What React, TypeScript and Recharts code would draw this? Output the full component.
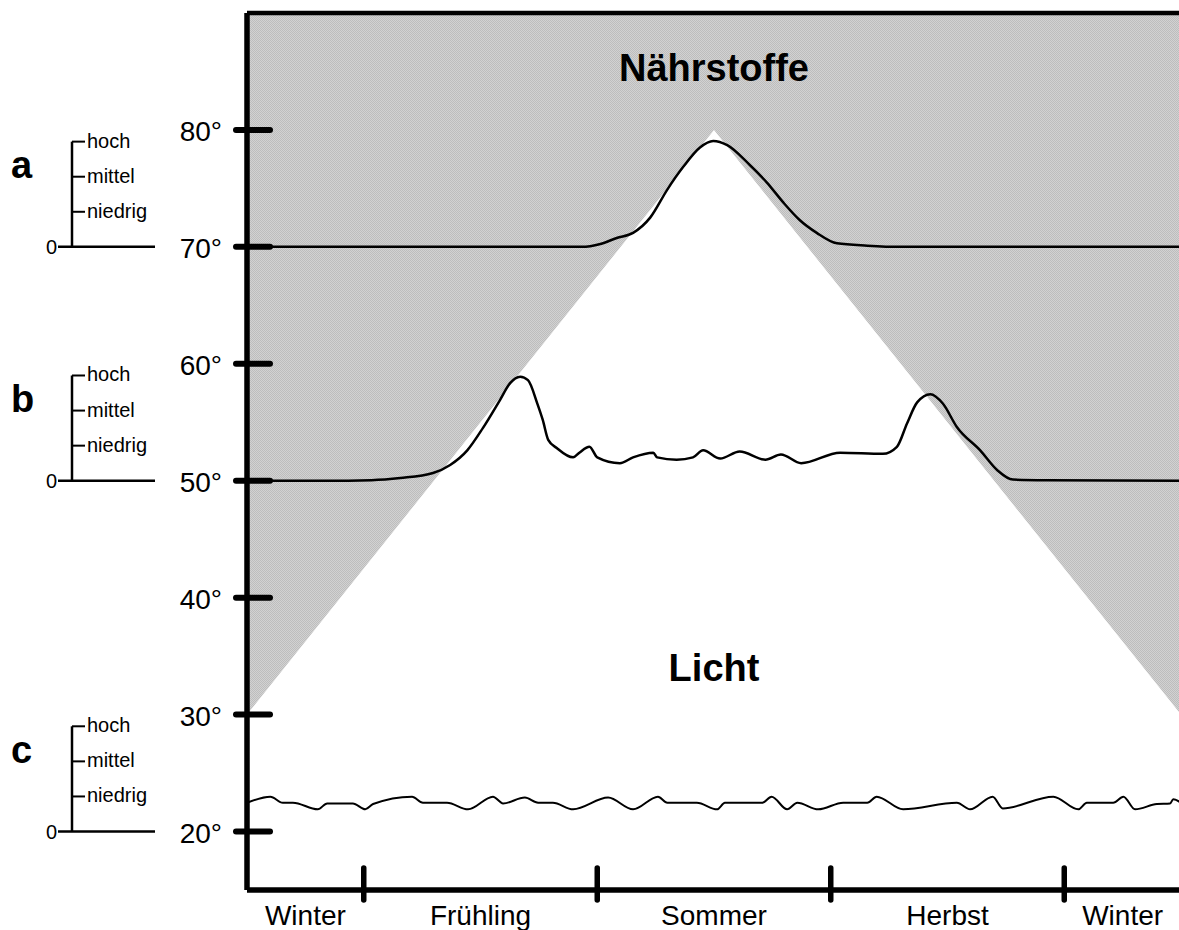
import { Area, ComposedChart, Line, ReferenceDot, ReferenceLine, XAxis, YAxis } from 'recharts'

// seasons along the year (x = months from start of winter)
const seasons = ['Winter', 'Frühling', 'Sommer', 'Herbst', 'Winter']
const seasonCenters = [0.75, 3, 6, 9, 11.25]
const seasonBounds = [1.5, 4.5, 7.5, 10.5]

const degreeTicks = [20, 30, 40, 50, 60, 70, 80]

// edge of the light triangle (below = Licht, above = Nährstoffe)
const lightMonths = [0, 6, 12]
const lightEdge = [30, 80, 30]
const topDegree = 90
const bottomDegree = 15

// a: high latitude
const aMonths = [0, 2, 4.3, 4.54, 4.75, 4.96, 5.18, 5.4, 5.6, 5.82, 5.99, 6.17, 6.46, 6.68, 6.89, 7.1, 7.32, 7.58, 7.97, 8.4, 10, 12]
const aValues = [70, 70, 70, 70.25, 70.76, 71.2, 72.5, 74.9, 76.8, 78.5, 79.05, 78.7, 77.0, 75.5, 73.8, 72.3, 71.2, 70.3, 70.1, 70, 70, 70]

// b: mid latitude
const bMonths = [0, 1.0, 1.6, 1.97, 2.39, 2.61, 2.83, 3.03, 3.25, 3.38, 3.51, 3.61, 3.73, 3.8, 3.87, 3.98, 4.19, 4.27, 4.4, 4.5, 4.79, 4.96, 5.22, 5.27, 5.52, 5.73, 5.86, 6.08, 6.33, 6.66, 6.86, 7.12, 7.62, 8.17, 8.35, 8.48, 8.61, 8.78, 8.94, 9.12, 9.42, 9.64, 9.84, 10.28, 12]
const bValues = [50, 50, 50.05, 50.23, 50.66, 51.35, 52.6, 54.5, 56.9, 58.35, 58.9, 58.6, 56.6, 55.2, 53.5, 52.8, 52.0, 52.4, 52.9, 52.0, 51.5, 52.0, 52.4, 52.0, 51.8, 52.0, 52.6, 51.9, 52.5, 51.8, 52.25, 51.5, 52.4, 52.3, 52.9, 54.9, 56.7, 57.4, 56.6, 54.6, 52.6, 50.9, 50.1, 50.05, 50]

// c: low latitude
const cMonths = [0, 0.3, 0.46, 0.59, 0.91, 1.03, 1.36, 1.52, 1.62, 2.12, 2.26, 2.57, 2.84, 3.16, 3.29, 3.57, 3.74, 3.93, 4.19, 4.64, 4.96, 5.28, 5.4, 5.78, 6.04, 6.14, 6.62, 6.74, 6.94, 7.07, 7.34, 7.66, 7.97, 8.09, 8.43, 9.12, 9.29, 9.58, 9.71, 10.36, 10.68, 10.79, 11.13, 11.26, 11.41, 11.69, 11.86, 11.9, 12]
const cValues = [22.46, 22.98, 22.46, 22.46, 21.9, 22.4, 22.4, 21.9, 22.35, 22.98, 22.46, 22.46, 21.9, 22.98, 22.4, 22.9, 22.46, 22.46, 21.9, 22.9, 21.9, 22.98, 22.46, 22.46, 21.9, 22.46, 22.46, 22.98, 21.9, 22.46, 21.9, 22.46, 22.46, 22.98, 21.9, 22.46, 21.9, 22.98, 21.98, 22.98, 21.9, 22.46, 22.46, 22.98, 21.9, 22.35, 22.4, 22.76, 22.46]

// small level scales on the left
const panels = ['a', 'b', 'c']
const panelZeros = [70, 50, 20]
const levels = ['hoch', 'mittel', 'niedrig']
const levelOffsets = [9, 6, 3]

const FONT = '"Liberation Sans", Arial, sans-serif'
const W = 1181
const H = 930
const M = { top: 13, right: 0, bottom: 0, left: 0 }
const X_H = 40
const Y_W = 247

const toRows = (xs: number[], ys: number[]) => xs.map((m, i) => ({ m, v: ys[i] }))
const bandRows = lightMonths.map((m, i) => ({ m, band: [lightEdge[i], topDegree] }))

// same mapping as the y axis, for the side scales
const vy = (v: number) =>
	M.top + ((topDegree - v) * (H - M.top - M.bottom - X_H)) / (topDegree - bottomDegree)

const XTick = ({ x, y, payload }: any) => {
	const v = payload.value
	if (seasonBounds.includes(v)) {
		return <line x1={x} x2={x} y1={y - 22} y2={y + 10} stroke='#000' strokeWidth={5.5} strokeLinecap='round' />
	}
	const i = seasonCenters.indexOf(v)
	return (
		<text x={x} y={y + 35} textAnchor='middle' fontSize={28} fontFamily={FONT} fill='#000'>
			{seasons[i]}
		</text>
	)
}

const YTick = ({ x, y, payload }: any) => (
	<g>
		<line x1={x - 11} x2={x + 23} y1={y} y2={y} stroke='#000' strokeWidth={6} strokeLinecap='round' />
		<text x={x - 25} y={y + 11} textAnchor='end' fontSize={28} fontFamily={FONT} fill='#000'>
			{payload.value}°
		</text>
	</g>
)

function SideScales() {
	return (
		<svg width={Y_W} height={H} style={{ position: 'absolute', left: 0, top: 0 }}>
			{panels.map((p, i) => {
				const z = vy(panelZeros[i])
				return (
					<g key={p} fontFamily={FONT} fill='#000'>
						<text x={11} y={z - 69} fontSize={38} fontWeight='bold'>
							{p}
						</text>
						<line x1={58} x2={155} y1={z} y2={z} stroke='#000' strokeWidth={2.5} />
						<line x1={72} x2={72} y1={vy(panelZeros[i] + levelOffsets[0])} y2={z} stroke='#000' strokeWidth={2.5} />
						{levels.map((l, j) => {
							const ly = vy(panelZeros[i] + levelOffsets[j])
							return (
								<g key={l}>
									<line x1={72} x2={85} y1={ly} y2={ly} stroke='#000' strokeWidth={2} />
									<text x={87} y={ly + 6} fontSize={20}>
										{l}
									</text>
								</g>
							)
						})}
						<text x={57} y={z + 7} fontSize={20} textAnchor='end'>
							0
						</text>
					</g>
				)
			})}
		</svg>
	)
}

export default function App() {
	return (
		<div style={{ position: 'absolute', left: 0, top: 0, width: 1179, height: H, overflow: 'hidden', background: '#fff' }}>
			<ComposedChart width={W} height={H} margin={M}>
				<defs>
					<pattern id='dots' width='2' height='2' patternUnits='userSpaceOnUse'>
						<rect width='2' height='2' fill='#d2d2d2' />
						<rect width='1' height='1' fill='#bdbdbd' />
						<rect x='1' y='1' width='1' height='1' fill='#bdbdbd' />
					</pattern>
				</defs>
				<XAxis
					dataKey='m'
					type='number'
					domain={[0, 12]}
					ticks={[...seasonCenters, ...seasonBounds].sort((p, q) => p - q)}
					interval={0}
					tickLine={false}
					tickSize={0}
					tickMargin={0}
					height={X_H}
					axisLine={{ stroke: '#000', strokeWidth: 5.5 }}
					tick={XTick}
				/>
				<YAxis
					type='number'
					domain={[bottomDegree, topDegree]}
					ticks={degreeTicks}
					interval={0}
					width={Y_W}
					tickLine={false}
					tickSize={0}
					tickMargin={0}
					axisLine={{ stroke: '#000', strokeWidth: 5.5 }}
					tick={YTick}
				/>
				<Area
					data={bandRows}
					dataKey='band'
					type='linear'
					stroke='none'
					fill='url(#dots)'
					fillOpacity={1}
					isAnimationActive={false}
					activeDot={false}
				/>
				<ReferenceLine y={topDegree} stroke='#000' strokeWidth={4.5} />
				<ReferenceDot
					x={6}
					y={85.3}
					r={0}
					stroke='none'
					label={{ value: 'Nährstoffe', position: 'center', fontSize: 38, fontWeight: 'bold', fill: '#000', fontFamily: FONT }}
				/>
				<ReferenceDot
					x={6}
					y={34}
					r={0}
					stroke='none'
					label={{ value: 'Licht', position: 'center', fontSize: 38, fontWeight: 'bold', fill: '#000', fontFamily: FONT }}
				/>
				<Line data={toRows(aMonths, aValues)} dataKey='v' type='monotone' stroke='#000' strokeWidth={2.5} dot={false} activeDot={false} isAnimationActive={false} />
				<Line data={toRows(bMonths, bValues)} dataKey='v' type='monotone' stroke='#000' strokeWidth={2.5} dot={false} activeDot={false} isAnimationActive={false} />
				<Line data={toRows(cMonths, cValues)} dataKey='v' type='monotone' stroke='#000' strokeWidth={2} dot={false} activeDot={false} isAnimationActive={false} />
			</ComposedChart>
			<SideScales />
		</div>
	)
}
